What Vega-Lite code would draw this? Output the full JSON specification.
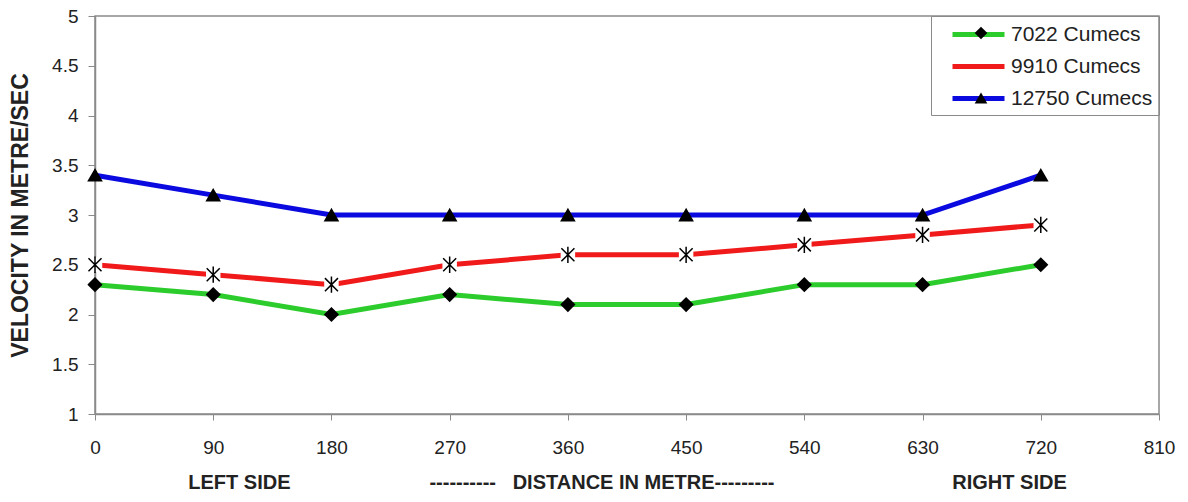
{
  "$schema": "https://vega.github.io/schema/vega-lite/v6.json",
  "width": 1064,
  "height": 398,
  "autosize": {"type": "none"},
  "padding": {"left": 95, "top": 16, "right": 29, "bottom": 88},
  "background": "white",
  "config": {
    "font": "Liberation Sans",
    "view": {"stroke": "#8a8a8a", "strokeWidth": 1.5},
    "axis": {
      "domainColor": "#8a8a8a",
      "domainWidth": 1.5,
      "tickColor": "#8a8a8a",
      "grid": false,
      "labelFont": "Liberation Sans",
      "labelColor": "#222222",
      "labelFontSize": 19,
      "titleFont": "Liberation Sans",
      "titleFontWeight": "bold",
      "titleColor": "#222222"
    }
  },
  "data": {
    "values": [
      {"distance": 0, "velocity": 2.3, "series": "7022 Cumecs", "marker": "7022 Cumecs"},
      {"distance": 90, "velocity": 2.2, "series": "7022 Cumecs", "marker": "7022 Cumecs"},
      {"distance": 180, "velocity": 2.0, "series": "7022 Cumecs", "marker": "7022 Cumecs"},
      {"distance": 270, "velocity": 2.2, "series": "7022 Cumecs", "marker": "7022 Cumecs"},
      {"distance": 360, "velocity": 2.1, "series": "7022 Cumecs", "marker": "7022 Cumecs"},
      {"distance": 450, "velocity": 2.1, "series": "7022 Cumecs", "marker": "7022 Cumecs"},
      {"distance": 540, "velocity": 2.3, "series": "7022 Cumecs", "marker": "7022 Cumecs"},
      {"distance": 630, "velocity": 2.3, "series": "7022 Cumecs", "marker": "7022 Cumecs"},
      {"distance": 720, "velocity": 2.5, "series": "7022 Cumecs", "marker": "7022 Cumecs"},
      {"distance": 0, "velocity": 2.5, "series": "9910 Cumecs", "marker": "9910 Cumecs"},
      {"distance": 90, "velocity": 2.4, "series": "9910 Cumecs", "marker": "9910 Cumecs"},
      {"distance": 180, "velocity": 2.3, "series": "9910 Cumecs", "marker": "9910 Cumecs"},
      {"distance": 270, "velocity": 2.5, "series": "9910 Cumecs", "marker": "9910 Cumecs"},
      {"distance": 360, "velocity": 2.6, "series": "9910 Cumecs", "marker": "9910 Cumecs"},
      {"distance": 450, "velocity": 2.6, "series": "9910 Cumecs", "marker": "9910 Cumecs"},
      {"distance": 540, "velocity": 2.7, "series": "9910 Cumecs", "marker": "9910 Cumecs"},
      {"distance": 630, "velocity": 2.8, "series": "9910 Cumecs", "marker": "9910 Cumecs"},
      {"distance": 720, "velocity": 2.9, "series": "9910 Cumecs", "marker": "9910 Cumecs"},
      {"distance": 0, "velocity": 3.4, "series": "12750 Cumecs", "marker": "12750 Cumecs"},
      {"distance": 90, "velocity": 3.2, "series": "12750 Cumecs", "marker": "12750 Cumecs"},
      {"distance": 180, "velocity": 3.0, "series": "12750 Cumecs", "marker": "12750 Cumecs"},
      {"distance": 270, "velocity": 3.0, "series": "12750 Cumecs", "marker": "12750 Cumecs"},
      {"distance": 360, "velocity": 3.0, "series": "12750 Cumecs", "marker": "12750 Cumecs"},
      {"distance": 450, "velocity": 3.0, "series": "12750 Cumecs", "marker": "12750 Cumecs"},
      {"distance": 540, "velocity": 3.0, "series": "12750 Cumecs", "marker": "12750 Cumecs"},
      {"distance": 630, "velocity": 3.0, "series": "12750 Cumecs", "marker": "12750 Cumecs"},
      {"distance": 720, "velocity": 3.4, "series": "12750 Cumecs", "marker": "12750 Cumecs"}
    ]
  },
  "encoding": {
    "x": {
      "field": "distance",
      "type": "quantitative",
      "scale": {"domain": [0, 810], "nice": false, "zero": false},
      "axis": {
        "values": [0, 90, 180, 270, 360, 450, 540, 630, 720, 810],
        "tickSize": 6,
        "labelPadding": 18,
        "labelFlush": false,
        "titleFontSize": 20,
        "titlePadding": 15,
        "title": "LEFT SIDE\u00a0\u00a0\u00a0\u00a0\u00a0\u00a0\u00a0\u00a0\u00a0\u00a0\u00a0\u00a0\u00a0\u00a0\u00a0\u00a0\u00a0\u00a0\u00a0\u00a0\u00a0\u00a0\u00a0\u00a0\u00a0----------\u00a0\u00a0\u00a0DISTANCE IN METRE---------\u00a0\u00a0\u00a0\u00a0\u00a0\u00a0\u00a0\u00a0\u00a0\u00a0\u00a0\u00a0\u00a0\u00a0\u00a0\u00a0\u00a0\u00a0\u00a0\u00a0\u00a0\u00a0\u00a0\u00a0\u00a0\u00a0\u00a0\u00a0\u00a0\u00a0\u00a0\u00a0RIGHT SIDE"
      }
    },
    "y": {
      "field": "velocity",
      "type": "quantitative",
      "scale": {"domain": [1, 5], "nice": false, "zero": false},
      "axis": {
        "values": [1, 1.5, 2, 2.5, 3, 3.5, 4, 4.5, 5],
        "format": "~g",
        "tickSize": 7,
        "labelPadding": 10,
        "labelFlush": false,
        "titleFontSize": 23,
        "titlePadding": 19,
        "title": "VELOCITY IN METRE/SEC"
      }
    }
  },
  "layer": [
    {
      "mark": {"type": "line", "strokeWidth": 5},
      "encoding": {
        "color": {
          "field": "series",
          "type": "nominal",
          "sort": null,
          "scale": {"range": ["#2ccc2c", "#f01a1a", "#0a0ae0"]},
          "legend": {
            "title": null,
            "orient": "top-right",
            "offset": 0,
            "padding": 6,
            "symbolType": "M-2.6,0L2.6,0",
            "symbolSize": 400,
            "symbolStrokeWidth": 5,
            "symbolOffset": 29,
            "labelOffset": 20,
            "labelFontSize": 21,
            "labelColor": "#222222",
            "labelFont": "Liberation Sans",
            "rowPadding": 9,
            "strokeColor": "#8a8a8a"
          }
        }
      }
    },
    {
      "transform": [{"filter": "datum.series === '9910 Cumecs'"}],
      "mark": {"type": "point", "shape": "square", "filled": true, "color": "white", "opacity": 1, "size": 210}
    },
    {
      "mark": {"type": "point", "filled": true, "color": "black", "stroke": "black", "strokeWidth": 1.5, "opacity": 1, "size": 170},
      "encoding": {
        "shape": {
          "field": "marker",
          "type": "nominal",
          "scale": {
            "domain": ["7022 Cumecs", "9910 Cumecs", "12750 Cumecs"],
            "range": ["diamond", "M-1,-1L1,1M-1,1L1,-1M0,-1.25L0,1.25", "triangle-up"]
          },
          "legend": {
            "title": null,
            "orient": "none",
            "legendX": 867,
            "legendY": -2,
            "padding": 9,
            "symbolSize": 160,
            "symbolFillColor": "black",
            "symbolStrokeColor": "black",
            "symbolStrokeWidth": 1.5,
            "symbolOffset": 0,
            "labelExpr": "''",
            "labelOffset": 0,
            "labelFontSize": 20,
            "labelFont": "Liberation Sans",
            "rowPadding": 11.5
          }
        }
      }
    }
  ]
}
